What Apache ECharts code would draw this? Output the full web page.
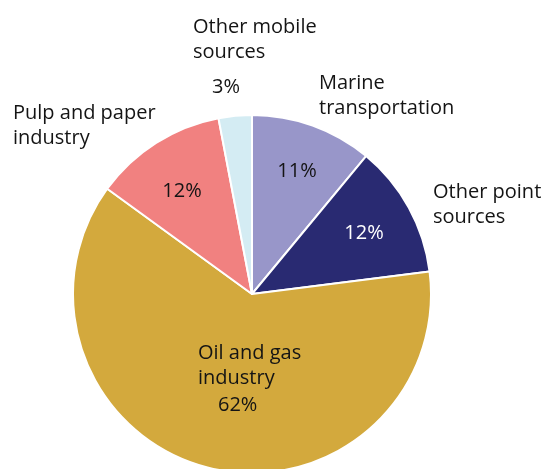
<!DOCTYPE html>
<html>
<head>
<meta charset="utf-8">
<script src="https://cdn.jsdelivr.net/npm/echarts@6/dist/echarts.min.js"></script>
<style>
  html, body { margin: 0; padding: 0; background: #fff; }
  #chart { width: 547px; height: 469px; }
</style>
</head>
<body>
<div id="chart"></div>
<script>
// slices in clockwise order starting at 12 o'clock
const names = ['Marine transportation', 'Other point sources', 'Oil and gas industry', 'Pulp and paper industry', 'Other mobile sources'];
const nameLines = ['Marine\ntransportation', 'Other point\nsources', 'Oil and gas\nindustry', 'Pulp and paper\nindustry', 'Other mobile\nsources'];
const values = [11, 12, 62, 12, 3];
const colors = ['#9896c9', '#292a72', '#d3a93d', '#f18180', '#d4ecf3'];

const chartDom = document.getElementById('chart');
const myChart = echarts.init(chartDom);

const font = '"Open Sans", sans-serif';
const ink = '#141414';
const pieCenter = [252, 294];
const pieRadius = 179;

// label anchor spots (x, y, align, verticalAlign)
const pctSpots = {
  0: [297, 171, 'center', 'middle'],
  1: [364, 233, 'center', 'middle'],
  2: [198, 341, 'left', 'top'],
  3: [182, 191, 'center', 'middle'],
  4: [193, 15, 'left', 'top'],
};
const nameSpots = {
  0: [319, 71, 'left', 'top'],
  1: [433, 180, 'left', 'top'],
  3: [13, 101, 'left', 'top'],
};

const pieData = names.map((n, i) => ({
  name: n,
  value: values[i],
  itemStyle: { color: colors[i] },
}));

const spotLayout = (spots) => (params) => {
  const s = spots[params.dataIndex];
  if (!s) return {};
  return { x: s[0], y: s[1], align: s[2], verticalAlign: s[3] };
};

let option = {
  animation: false,
  series: [
    {
      name: 'slices',
      type: 'pie',
      center: pieCenter,
      radius: pieRadius,
      startAngle: 90,
      clockwise: true,
      avoidLabelOverlap: false,
      emphasis: { disabled: true },
      itemStyle: { borderColor: '#fff', borderWidth: 2 },
      labelLine: { show: false },
      label: {
        show: true,
        position: 'inside',
        fontFamily: font,
        fontSize: 20,
        color: ink,
        formatter: (p) => {
          const pct = p.value + '%';
          if (p.dataIndex === 2 || p.dataIndex === 4) {
            return '{n|' + nameLines[p.dataIndex] + '}\n{q|' + pct + '}';
          }
          return '{p|' + pct + '}';
        },
        rich: {
          p: { fontFamily: font, fontSize: 20, color: ink },
          n: { fontFamily: font, fontSize: 20, lineHeight: 25, color: ink },
          q: { fontFamily: font, fontSize: 20, lineHeight: 29, padding: [0, 0, 0, 20], color: ink },
        },
      },
      labelLayout: spotLayout(pctSpots),
      data: pieData.map((d, i) => i === 1
        ? Object.assign({}, d, { label: { rich: { p: { color: '#fff', fontFamily: font, fontSize: 20 } } } })
        : i === 4
          ? Object.assign({}, d, { label: { rich: { q: { fontFamily: font, fontSize: 20, lineHeight: 45, padding: [0, 0, 0, 19], color: ink } } } })
          : d),
    },
    {
      name: 'names',
      type: 'pie',
      center: pieCenter,
      radius: pieRadius,
      startAngle: 90,
      clockwise: true,
      silent: true,
      avoidLabelOverlap: false,
      emphasis: { disabled: true },
      itemStyle: { color: 'transparent', borderWidth: 0 },
      labelLine: { show: false },
      label: {
        show: true,
        position: 'inside',
        fontFamily: font,
        fontSize: 20,
        lineHeight: 25,
        color: ink,
        formatter: (p) => nameSpots[p.dataIndex] ? nameLines[p.dataIndex] : '',
      },
      labelLayout: spotLayout(nameSpots),
      data: names.map((n, i) => ({ name: n, value: values[i] })),
    },
  ],
};

option && myChart.setOption(option);
</script>
</body>
</html>
